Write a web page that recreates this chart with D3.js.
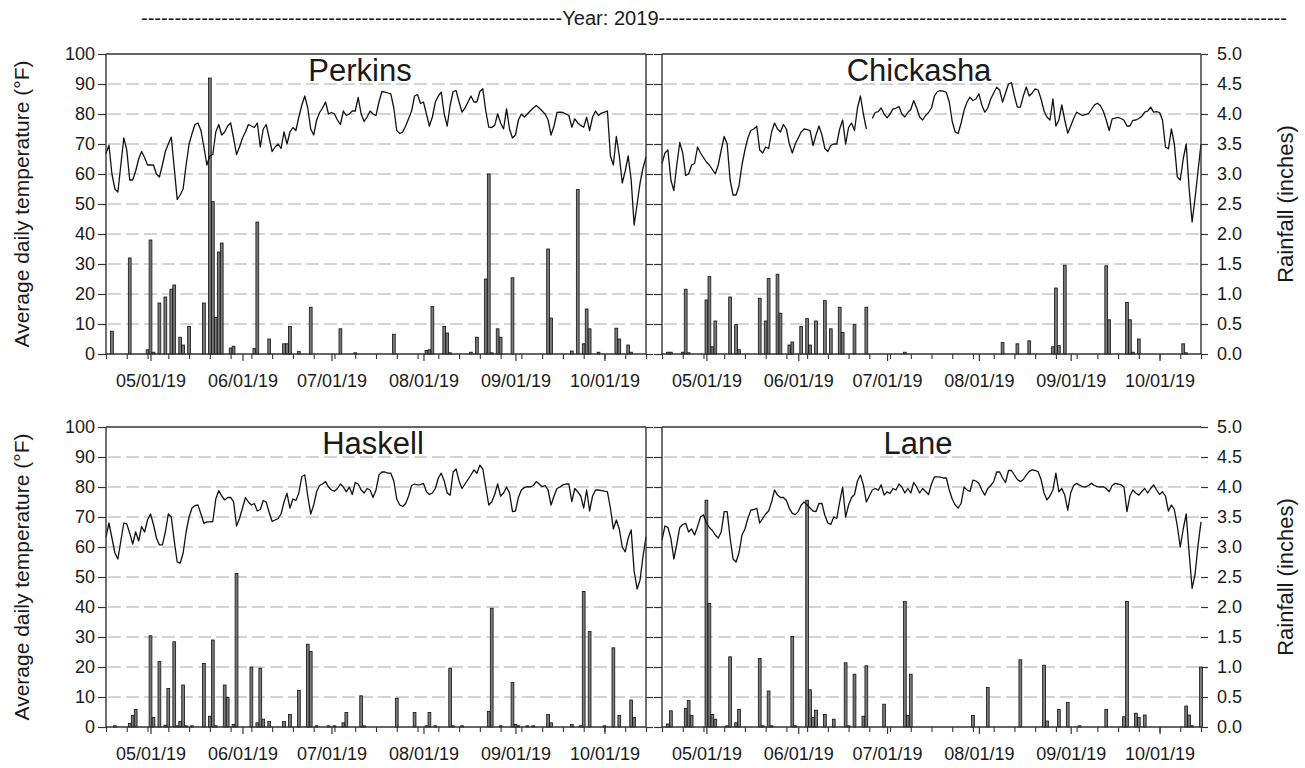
<!DOCTYPE html>
<html><head><meta charset="utf-8">
<script src="https://cdn.jsdelivr.net/npm/d3@7"></script>
<style>
body{margin:0;background:#fff;}
text{font-family:Arial,"Liberation Sans",Helvetica,sans-serif;fill:#1a1a1a;}
</style>
</head><body>
<svg id="c" width="1305" height="768"></svg>
<script>
// ---------------- DATA ----------------
const startDate = "2019-04-16";   // day 0 of every series (daily data to 2019-10-15)
const yearLabel = "Year: 2019";
const stations = ["Perkins", "Chickasha", "Haskell", "Lane"];
const monthTicks = ["2019-05-01","2019-06-01","2019-07-01","2019-08-01","2019-09-01","2019-10-01"];
const tempTicks = [0,10,20,30,40,50,60,70,80,90,100];
const rainTicks = [0,0.5,1,1.5,2,2.5,3,3.5,4,4.5,5];

// Average daily temperature (°F), one value per day from startDate
const tempPerkins = [
66.8,69.6,60,55,54,63,72,68,58,58,
61,65,67.5,65.5,63,63,63,60,59,63,
67.5,70,72.3,62,51.5,53,55,63,70,73.5,
76.5,77,74.5,69,63,66,66.5,74,76.5,73,
74,76,77,72,66.5,69,72,74,76.5,76,
75.5,77,69,75,76.5,72,67.5,69,70,68.5,
74,70,74,75.5,74.5,79,83,86,82,75,
73,78,80.5,82,84,80,80.5,80,78,76.5,
81,79.5,80,81,81,85.5,80,77.5,79,81,
80,79.5,84,87.5,87.3,87,86.7,82,74.5,73.5,
74,76,78.5,81,86,86.5,83.5,84,80,76,
79,84,86,87.3,80,76,83,87.5,87.8,84,
80.6,82,84,86,84,84,87.5,88.4,81,75.6,
75.5,76.2,80,77,75,81.7,75,72,73,78,
80,79,80,81,82,82.8,82,81,80,78,
73,76,80.5,80.6,80.5,80,79.5,75.6,78.4,77,
76.2,75.6,78.9,74.5,79,81,79.5,80.3,80.6,81,
66,63,72.5,66,57,61,66,58,43,50,
57,62,65.7];
const tempChickasha = [
63.5,67,68,58,54.5,63,70.5,67,59.5,60,
63,63.5,69,67,65.5,64,63,61.5,60,63,
68,72.5,70,58,53,53,56,63,68,72,
74.5,75,75.9,68,67,69,68.5,74,77,75,
74,76.5,75,70,67,70,72,74,75,74.8,
74.5,69.5,73,76,73,68.5,67.5,69.5,70,70,
75,78,70,75.5,77,74.5,82,86,80,75,
null,78.5,80.5,80.8,82,80,78.7,80,81.7,81.9,
82.5,80,79,80.5,81.5,84.5,82,79,78,79.5,
80.5,82,86,87.5,87.8,87.6,87.2,84,77.5,74,
73.5,77,81.2,84,85.6,84.5,85,86.7,83,80.6,
82,85,87,88.9,88,84,87,90,90.5,86,
82.3,82.3,86,89,86,87,88.4,88,85,81,
79,78,85,76,78,83,78,73.6,76,78.5,
80.6,80,79.5,79.8,80.1,81.5,83,83.6,82.8,81,
78,74.5,78.4,78.6,78.9,78.5,77.9,76,76,77.9,
78,78.5,79.2,80.6,81,82.3,80.6,80.8,80.5,78,
69,68.4,75,70,59,58,65,70,55,44,
52,61,70];
const tempHaskell = [
63.4,68,63,58,56,62,68,67.7,64.6,61,
65,62,66.8,65,69,71,67.5,63,60.7,60.7,
65,71,70,62,55,54.6,58,65,70,73,
73.8,74,71,67.9,68.4,68.4,68.5,76,78.8,77,
75.7,76.5,76.5,75.1,67,69.5,73,76.5,75,74,
74.5,72,72.5,75.5,75,71.5,68.5,69,69.5,71,
75,77.9,73,76,75.5,78,83.5,84,77,71,
74,78.5,80.5,81,81.8,80,79,78.6,79.5,81,
80,78.4,80,77.5,81.5,81,79,78,79.5,79,
76.5,79,84,85,85,84.6,84.6,82,76,74,
73.5,74.5,77,80.5,81,80.7,80.8,81.2,78.4,77.5,
78,79.5,83,84.6,82,78,77.3,85,86,82,
79.5,81,82.5,84,85.7,84.6,87.3,86,80,74,
75,77.5,81,77,78,80,78,71.8,72,76.5,
79,79.8,80.1,80,80.5,81.8,81,80.1,80.5,79,
74,77,79.5,80,80.7,81,81,75.1,79.5,78.4,
77,73,79,72,77,79,79,78.8,78.6,78.4,
73,66,69,66,60,58.4,63,65.7,52,46,
49,57,63.4];
const tempLane = [
62.3,67,66.5,62.9,56,61,66.5,67.5,67.9,65,
66,64,66.8,70,70.7,68,66.5,65.5,64,63,
65,71.8,71.8,63,56,55,58,64,66,69.5,
72.3,72.5,72.9,68,69.5,71,72,75,79,77.3,
76.5,76.5,75.5,72.9,71.2,70.8,71.8,74,75,74,
73,72,71.8,74.5,74.5,70.5,68,67.5,70,69.5,
75,80,70,74,76.5,77.5,82,84,80.7,75,
77,79,79.5,78.9,80.7,77.3,78.4,77.9,79.5,79,
81,80,78,79.5,78,81.5,80,78,79.5,78.5,
77.5,81,83.4,83.4,83.3,83,83,79,76,74,
73,74.5,80,79,78.5,82.3,82,81.2,79,77.3,
79.5,80.5,81.8,85,85,83,81.5,85.5,85.5,84,
82.5,81.8,82.5,84,85.2,85.7,85.5,85.1,82.5,78,
75.7,77,79,84.6,78.4,79.5,77.3,72.3,78,80.5,
81.2,80.6,80.1,80,80.5,81.2,80.5,80.1,80,80.1,
79.5,78.4,80.5,81.2,81,80.7,80,71.8,77,79,
78,77.3,78.5,79.5,78,79.5,80.7,79,77.5,78.4,
77,72,74,72.5,67,60,66,71,58,46.2,
51,60.6,68.4];

// Rainfall (inches): day index (from startDate) and amount, rainy days only
const rainDaysPerkins = [2,8,14,15,16,18,20,22,23,25,26,28,33,35,36,37,38,39,42,43,50,51,55,60,61,62,65,69,79,84,97,108,109,110,114,115,116,123,125,128,129,130,132,133,137,149,150,157,159,161,162,163,166,172,173,176,177];
const rainPerkins = [0.38,1.6,0.07,1.9,0.03,0.85,0.95,1.08,1.15,0.28,0.15,0.46,0.85,4.6,2.54,0.61,1.7,1.85,0.1,0.13,0.09,2.2,0.25,0.17,0.17,0.46,0.04,0.78,0.42,0.02,0.33,0.06,0.07,0.79,0.46,0.35,0.02,0.03,0.28,1.25,3.0,0.02,0.42,0.28,1.27,1.75,0.6,0.05,2.74,0.17,0.75,0.42,0.03,0.43,0.25,0.15,0.03];
const rainDaysChickasha = [2,3,7,8,9,15,16,17,18,23,25,26,33,35,36,39,40,43,44,47,49,50,52,55,57,60,61,65,69,82,115,120,124,132,133,134,136,150,151,157,158,159,161,176,177];
const rainChickasha = [0.03,0.03,0.03,1.08,0.02,0.9,1.29,0.12,0.55,0.95,0.49,0.07,0.93,0.55,1.26,1.33,0.68,0.15,0.2,0.46,0.59,0.15,0.55,0.89,0.42,0.78,0.36,0.49,0.78,0.03,0.19,0.17,0.22,0.12,1.1,0.14,1.48,1.47,0.57,0.86,0.57,0.03,0.25,0.17,0.02];
const rainDaysHaskell = [3,8,9,10,15,16,18,20,21,23,24,25,26,27,29,33,35,36,37,40,41,43,44,49,51,52,53,55,60,62,65,68,69,71,75,77,80,81,86,87,98,104,108,109,111,116,117,120,129,130,133,137,138,139,142,144,149,150,157,160,161,163,168,171,173,177,178];
const rainHaskell = [0.02,0.06,0.19,0.29,1.52,0.16,1.09,0.03,0.64,1.42,0.02,0.09,0.7,0.02,0.02,1.06,0.18,1.45,0.02,0.7,0.49,0.04,2.56,1.0,0.07,0.98,0.13,0.09,0.09,0.21,0.61,1.38,1.26,0.02,0.02,0.02,0.07,0.24,0.52,0.02,0.48,0.24,0.02,0.24,0.02,0.98,0.02,0.02,0.26,1.98,0.02,0.74,0.04,0.02,0.02,0.02,0.21,0.07,0.04,0.02,2.26,1.59,0.02,1.32,0.19,0.45,0.16];
const rainDaysLane = [2,3,8,9,10,15,16,17,18,22,23,25,26,33,34,36,37,44,45,49,50,51,52,55,58,62,63,65,68,69,75,82,83,84,105,110,121,129,130,134,137,141,150,156,157,160,161,163,177,178,179,182];
const rainLane = [0.05,0.27,0.31,0.44,0.19,3.78,2.06,0.21,0.13,0.02,1.17,0.07,0.29,1.14,0.02,0.6,0.02,1.51,0.02,3.78,0.62,0.16,0.28,0.21,0.13,1.07,0.02,0.88,0.18,1.02,0.38,2.09,0.19,0.88,0.19,0.66,1.12,1.03,0.1,0.29,0.41,0.02,0.29,0.17,2.09,0.23,0.16,0.2,0.35,0.2,0.02,1.0];

// ---------------- LAYOUT ----------------
const svg = d3.select("#c");
const parse = d3.timeParse("%Y-%m-%d");
const t0 = parse(startDate);
const nDays = tempPerkins.length;
const t1 = d3.timeDay.offset(t0, nDays - 1);
const dayDate = d => d3.timeDay.offset(t0, d);

const cols = [{x0:106, x1:646}, {x0:662, x1:1201}];
const rows = [{y0:54, y1:354}, {y0:427, y1:727}];

const panels = [
  {name: stations[0], temp: tempPerkins, rd: rainDaysPerkins, rv: rainPerkins, c:0, r:0, tx:360, rightSpine:true},
  {name: stations[1], temp: tempChickasha, rd: rainDaysChickasha, rv: rainChickasha, c:1, r:0, tx:919, rightSpine:true},
  {name: stations[2], temp: tempHaskell, rd: rainDaysHaskell, rv: rainHaskell, c:0, r:1, tx:373, rightSpine:true},
  {name: stations[3], temp: tempLane, rd: rainDaysLane, rv: rainLane, c:1, r:1, tx:918, rightSpine:false}
];

const fmtDate = d3.timeFormat("%m/%d/%y");
const months = monthTicks.map(parse);
const weekly = d3.range(0, nDays, 7).map(dayDate);
const FONT = "Arial, 'Liberation Sans', sans-serif";

panels.forEach(p => {
  const {x0, x1} = cols[p.c];
  const {y0, y1} = rows[p.r];
  const x = d3.scaleTime().domain([t0, t1]).range([x0, x1]);
  const yT = d3.scaleLinear().domain([0, 100]).range([y1, y0]);
  const yR = d3.scaleLinear().domain([0, 5]).range([y1, y0]);
  const g = svg.append("g");

  // gridlines
  g.selectAll("line.grid").data(tempTicks.filter(v => v > 0 && v < 100)).join("line")
    .attr("x1", x0 + 2).attr("x2", x1 - 2)
    .attr("y1", d => yT(d)).attr("y2", d => yT(d))
    .attr("stroke", "#c6c6c6").attr("stroke-width", 1.6).attr("stroke-dasharray", "13,5");

  // rain bars
  const bw = 2.8;
  g.selectAll("rect.bar").data(p.rd.map((d, i) => ({d, v: p.rv[i]}))).join("rect")
    .attr("x", o => x(dayDate(o.d)) - bw / 2)
    .attr("width", bw)
    .attr("y", o => yR(o.v))
    .attr("height", o => Math.max(0.6, y1 - yR(o.v)))
    .attr("fill", "#7a7a7a").attr("stroke", "#111").attr("stroke-width", 0.8);

  // temperature line
  const line = d3.line().defined(v => v != null)
    .x((v, i) => x(dayDate(i))).y(v => yT(v));
  g.append("path").datum(p.temp).attr("d", line)
    .attr("fill", "none").attr("stroke", "#111").attr("stroke-width", 1.3)
    .attr("stroke-linejoin", "round");

  // frame
  const spine = (xa, ya, xb, yb) => g.append("line").attr("x1", xa).attr("y1", ya).attr("x2", xb).attr("y2", yb)
    .attr("stroke", "#333").attr("stroke-width", 1.4);
  spine(x0, y0, x1, y0);
  spine(x0, y0, x0, y1);
  if (p.rightSpine) spine(x1, y0, x1, y1);

  // left axis
  const aL = d3.axisLeft(yT).tickValues(tempTicks).tickSize(8).tickSizeOuter(0).tickPadding(3);
  if (p.c === 1) aL.tickFormat("");
  const gl = g.append("g").attr("transform", `translate(${x0},0)`).call(aL);
  gl.select(".domain").remove();
  gl.selectAll("line").attr("stroke", "#333").attr("stroke-width", 1.2);
  gl.selectAll("text").attr("font-size", 18).attr("fill", "#1a1a1a").attr("font-family", FONT);

  // right axis
  const aR = d3.axisRight(yR).tickValues(rainTicks).tickSize(7).tickSizeOuter(0).tickPadding(9)
    .tickFormat(p.c === 1 ? d3.format(".1f") : "");
  const gr = g.append("g").attr("transform", `translate(${x1},0)`).call(aR);
  gr.select(".domain").remove();
  gr.selectAll("line").attr("stroke", "#333").attr("stroke-width", 1.2);
  gr.selectAll("text").attr("font-size", 18).attr("fill", "#1a1a1a").attr("font-family", FONT);

  // bottom axis: weekly minor ticks, monthly labelled ticks
  const gm = g.append("g").attr("transform", `translate(0,${y1})`)
    .call(d3.axisBottom(x).tickValues(weekly).tickSize(5).tickFormat(""));
  gm.select(".domain").attr("stroke", "#333").attr("stroke-width", 1.4).attr("d", `M${x0},0H${x1}`);
  gm.selectAll("line").attr("stroke", "#333").attr("stroke-width", 1.1);
  const gb = g.append("g").attr("transform", `translate(0,${y1})`)
    .call(d3.axisBottom(x).tickValues(months).tickSize(7).tickPadding(13).tickFormat(fmtDate));
  gb.select(".domain").remove();
  gb.selectAll("line").attr("stroke", "#333").attr("stroke-width", 1.2);
  gb.selectAll("text").attr("font-size", 18).attr("fill", "#1a1a1a").attr("font-family", FONT);

  // station title
  g.append("text").attr("x", p.tx).attr("y", y0 + 27).attr("text-anchor", "middle")
    .attr("font-size", 31).text(p.name);

  // axis titles
  const cy = (y0 + y1) / 2;
  if (p.c === 0) {
    g.append("text").attr("transform", `translate(21,${cy}) rotate(-90)`)
      .attr("text-anchor", "middle").attr("dominant-baseline", "central")
      .attr("font-size", 21).text("Average daily temperature (°F)");
  } else {
    g.append("text").attr("transform", `translate(1285,${cy}) rotate(-90)`)
      .attr("text-anchor", "middle").attr("dominant-baseline", "central")
      .attr("font-size", 22).text("Rainfall (inches)");
  }
});

// header: one dashed line of text with the year in it
svg.append("text").attr("x", 141).attr("y", 25).attr("font-size", 20).attr("font-family", FONT)
  .attr("textLength", 1146).attr("lengthAdjust", "spacingAndGlyphs")
  .text("-".repeat(63) + yearLabel + "-".repeat(94));
</script>
</body></html>
